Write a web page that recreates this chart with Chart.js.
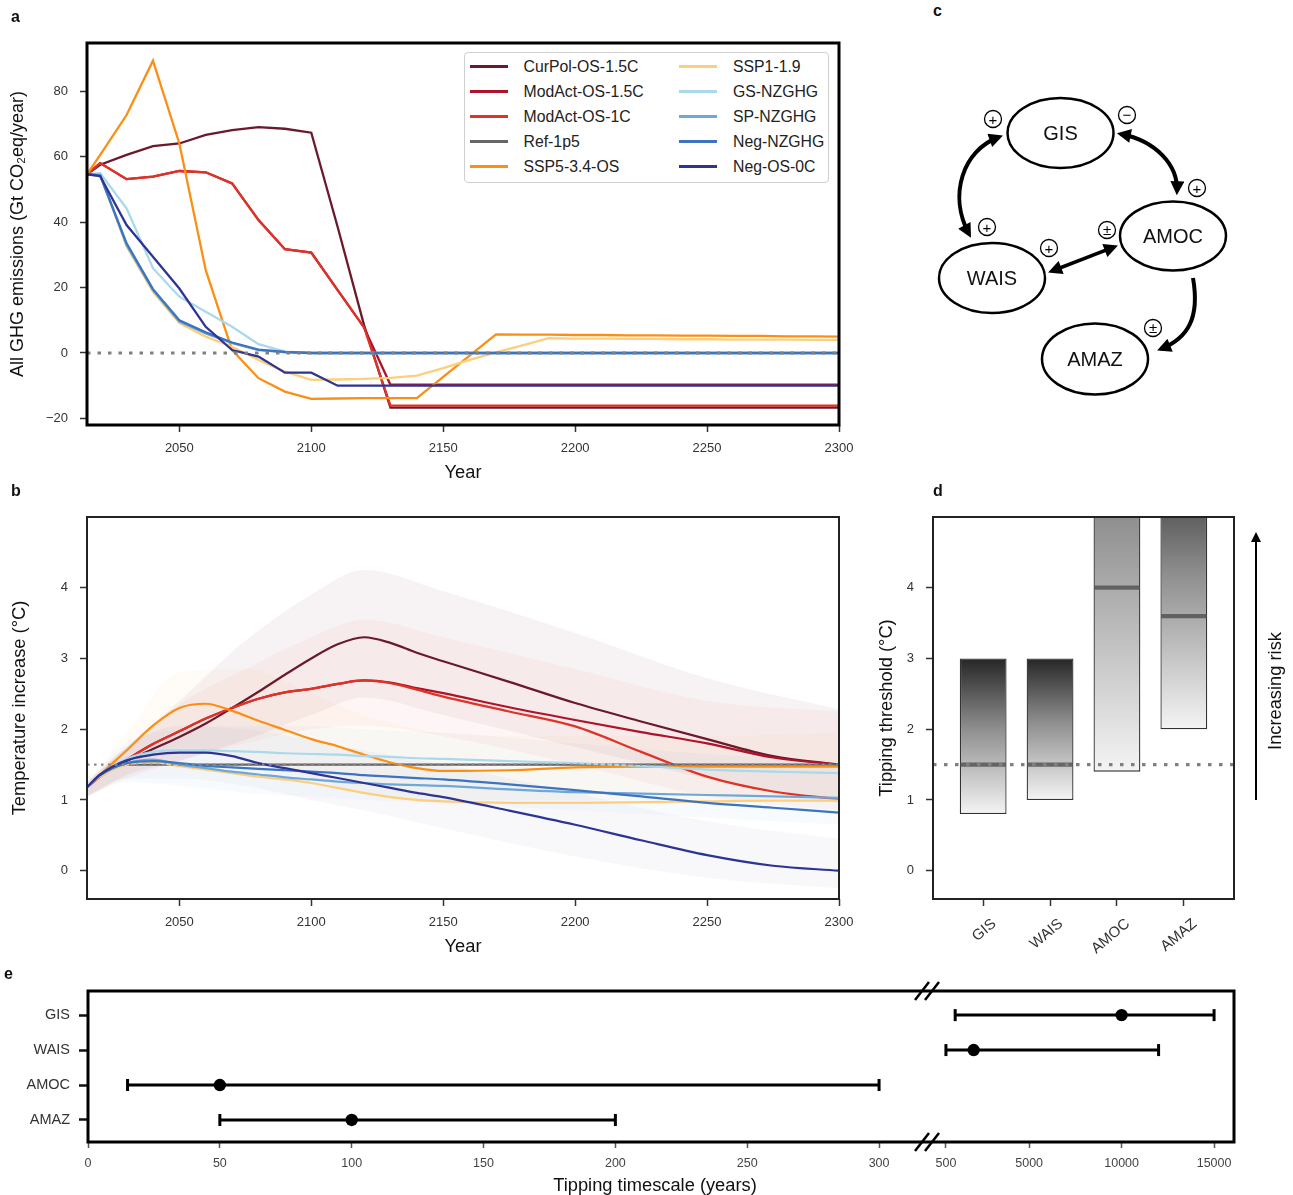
<!DOCTYPE html>
<html><head><meta charset="utf-8">
<script src="https://cdn.jsdelivr.net/npm/chart.js@4.4.0/dist/chart.umd.min.js"></script>
<style>
body{margin:0;background:#fff;width:1293px;height:1195px;position:relative;overflow:hidden;font-family:"Liberation Sans",Arial,Helvetica,sans-serif;color:#111;}
canvas{position:absolute;}
.pl{position:absolute;font-weight:bold;font-size:16px;}
#legA{position:absolute;left:464px;top:52px;width:363px;height:129px;border:1.5px solid #cfcfcf;border-radius:4px;background:#fff;font-size:15.8px;color:#222;}
</style></head><body>
<canvas id="ca" width="860" height="490" style="left:0;top:0"></canvas>
<canvas id="cb" width="860" height="480" style="left:0;top:490px"></canvas>
<canvas id="cd" width="433" height="480" style="left:860px;top:490px"></canvas>
<canvas id="ce1" width="926" height="220" style="left:0;top:975px"></canvas>
<canvas id="ce2" width="367" height="220" style="left:926px;top:975px"></canvas>
<div id="legA"></div>
<div class="pl" style="left:11px;top:8px">a</div>
<div class="pl" style="left:11px;top:482px">b</div>
<div class="pl" style="left:933px;top:2px">c</div>
<div class="pl" style="left:933px;top:482px">d</div>
<div class="pl" style="left:4px;top:965px">e</div>
<div style="position:absolute;left:455px;top:1174px;width:400px;text-align:center;font-size:18.3px;color:#111">Tipping timescale (years)</div>
<svg width="1293" height="1195" style="position:absolute;left:0;top:0;pointer-events:none" font-family="Liberation Sans, Arial, sans-serif">
<defs>
<marker id="ah" markerUnits="userSpaceOnUse" viewBox="0 0 10 10" refX="7" refY="5" markerWidth="15" markerHeight="14" orient="auto-start-reverse"><path d="M0,0 L10,5 L0,10 z" fill="#000"/></marker>
<marker id="ah2" markerUnits="userSpaceOnUse" viewBox="0 0 10 10" refX="8" refY="5" markerWidth="13" markerHeight="10" orient="auto"><path d="M0,0 L10,5 L0,10 z" fill="#000"/></marker>
</defs>
<g fill="none" stroke="#000" stroke-width="4">
<path d="M 999 137 C 963 150, 948 195, 969 234" marker-start="url(#ah)" marker-end="url(#ah)"/>
<path d="M 1121 134 C 1156 141, 1178 165, 1177 191" marker-start="url(#ah)" marker-end="url(#ah)"/>
<path d="M 1052 271 L 1114 247" stroke-width="3.5" marker-start="url(#ah)" marker-end="url(#ah)"/>
<path d="M 1193 278 C 1200 318, 1188 338, 1161 349" marker-end="url(#ah)"/>
</g>
<g fill="#fff" stroke="#000" stroke-width="2.5">
<ellipse cx="1060.5" cy="133" rx="53" ry="35"/>
<ellipse cx="1173" cy="236" rx="53" ry="34.5"/>
<ellipse cx="992" cy="278" rx="53" ry="35"/>
<ellipse cx="1095" cy="359" rx="53" ry="35.5"/>
</g>
<g font-size="20" fill="#111" text-anchor="middle">
<text x="1060.5" y="140">GIS</text>
<text x="1173" y="243">AMOC</text>
<text x="992" y="285">WAIS</text>
<text x="1095" y="366">AMAZ</text>
</g>
<g fill="#fff" stroke="#000" stroke-width="1.3">
<circle cx="993" cy="119" r="8.5"/><circle cx="1127" cy="115" r="8.5"/><circle cx="1197" cy="188" r="8.5"/>
<circle cx="987" cy="227" r="8.5"/><circle cx="1049" cy="248" r="8.5"/><circle cx="1107" cy="230" r="8.5"/><circle cx="1153" cy="328" r="8.5"/>
</g>
<g font-size="15" fill="#000" text-anchor="middle">
<text x="993" y="124.5">+</text><text x="1127" y="120">−</text><text x="1197" y="193.5">+</text>
<text x="987" y="232.5">+</text><text x="1049" y="253.5">+</text><text x="1107" y="235">±</text><text x="1153" y="333">±</text>
</g>
<path d="M 1256 800 L 1256 534" stroke="#000" stroke-width="2" fill="none" marker-end="url(#ah2)"/>
<text x="1281" y="691" font-size="18.3" fill="#111" text-anchor="middle" transform="rotate(-90 1281 691)">Increasing risk</text>
<g stroke="#000" stroke-width="2.5">
<line x1="915" y1="1000" x2="929" y2="982"/><line x1="925" y1="1000" x2="939" y2="982"/>
<line x1="915" y1="1151" x2="929" y2="1133"/><line x1="925" y1="1151" x2="939" y2="1133"/>
</g>
</svg>
<script>
const FONT = "'Liberation Sans', Arial, Helvetica, sans-serif";
Chart.defaults.font.family = FONT;
Chart.defaults.color = '#333';
Chart.defaults.animation = false;

// ---------------- DATA ----------------
const scenarioNames = ['CurPol-OS-1.5C','ModAct-OS-1.5C','ModAct-OS-1C','Ref-1p5','SSP5-3.4-OS','SSP1-1.9','GS-NZGHG','SP-NZGHG','Neg-NZGHG','Neg-OS-0C'];
const scenarioColors = ['#6a1a2c','#b0122b','#de3326','#666666','#fb8f15','#fdcf7c','#a9d9eb','#6ea8d8','#3d74bf','#2d3494'];

// Panel a: emissions (Gt CO2eq/yr)
const emisYears = [2015,2020,2030,2040,2050,2060,2070,2080,2090,2100,2110,2120,2130,2140,2150,2160,2170,2180,2190,2200,2210,2220,2230,2240,2250,2260,2270,2280,2290,2300];
const emisCurPol   = [54.6,57.5,60.5,63.2,64.0,66.6,68.1,69.0,68.5,67.3,38.5,8.5,-16.7,-16.7,-16.7,-16.7,-16.7,-16.7,-16.7,-16.7,-16.7,-16.7,-16.7,-16.7,-16.7,-16.7,-16.7,-16.7,-16.7,-16.7];
const emisModAct15 = [54.6,58.0,53.1,53.9,55.6,55.2,51.8,40.6,31.7,30.7,19.2,7.8,-9.7,-9.7,-9.7,-9.7,-9.7,-9.7,-9.7,-9.7,-9.7,-9.7,-9.7,-9.7,-9.7,-9.7,-9.7,-9.7,-9.7,-9.7];
const emisModAct1  = [54.6,58.0,53.1,53.9,55.6,55.2,51.8,40.6,31.7,30.7,19.2,7.8,-16.1,-16.1,-16.1,-16.1,-16.1,-16.1,-16.1,-16.1,-16.1,-16.1,-16.1,-16.1,-16.1,-16.1,-16.1,-16.1,-16.1,-16.1];
const emisSSP534   = [54.6,60.5,72.7,89.3,64.0,25.3,0.9,-7.7,-11.8,-14.0,-13.9,-13.8,-13.8,-13.8,-7.3,-0.8,5.7,5.6,5.6,5.5,5.5,5.4,5.4,5.3,5.3,5.2,5.2,5.1,5.1,5.0];
const emisSSP119   = [54.6,54.6,32.5,18.7,9.1,5.0,1.9,-2.1,-5.7,-8.2,-8.1,-7.9,-7.6,-6.9,-4.6,-2.1,0.2,2.3,4.5,4.4,4.4,4.3,4.3,4.2,4.2,4.1,4.1,4.1,4.0,4.0];
const emisGS       = [54.6,54.9,44.2,25.9,17.2,12.6,8.0,2.7,0.4,0,0,0,0,0,0,0,0,0,0,0,0,0,0,0,0,0,0,0,0,0];
const emisSP       = [54.6,54.4,33.0,19.2,9.6,6.0,3.0,0.9,0.3,0,0,0,0,0,0,0,0,0,0,0,0,0,0,0,0,0,0,0,0,0];
const emisNegNZ    = [54.6,54.2,33.5,19.5,10.0,6.3,3.2,1.0,0.3,0,0,0,0,0,0,0,0,0,0,0,0,0,0,0,0,0,0,0,0,0];
const emisNegOS    = [54.6,54.0,39.1,29.4,19.7,8.0,0.9,-1.1,-6.0,-6.0,-10.0,-10.0,-10.0,-10.0,-10.0,-10.0,-10.0,-10.0,-10.0,-10.0,-10.0,-10.0,-10.0,-10.0,-10.0,-10.0,-10.0,-10.0,-10.0,-10.0];
const emisZeroLine = 0;
const yearTicks = [2050,2100,2150,2200,2250,2300];
const emisTicks = [-20,0,20,40,60,80];

// Panel b: temperature (°C)
const tempYears = [2015,2020,2030,2040,2050,2060,2070,2080,2090,2100,2110,2120,2130,2140,2150,2175,2200,2225,2250,2275,2300];
const tempCurPol   = [1.18,1.33,1.55,1.72,1.89,2.08,2.30,2.53,2.77,3.00,3.20,3.30,3.22,3.08,2.96,2.67,2.37,2.11,1.86,1.62,1.50];
const tempModAct15 = [1.18,1.34,1.57,1.79,1.97,2.15,2.30,2.43,2.52,2.57,2.64,2.69,2.66,2.58,2.51,2.31,2.13,1.96,1.80,1.60,1.50];
const tempModAct1  = [1.18,1.34,1.57,1.79,1.97,2.15,2.30,2.43,2.52,2.57,2.64,2.69,2.65,2.56,2.46,2.25,2.04,1.68,1.33,1.12,1.01];
const tempRef      = [1.18,1.35,1.50,1.50,1.50,1.50,1.50,1.50,1.50,1.50,1.50,1.50,1.50,1.50,1.50,1.50,1.50,1.50,1.50,1.50,1.50];
const tempSSP534   = [1.18,1.36,1.70,2.05,2.30,2.36,2.26,2.12,1.99,1.86,1.76,1.64,1.53,1.45,1.41,1.42,1.46,1.47,1.47,1.47,1.47];
const tempSSP119   = [1.18,1.33,1.50,1.53,1.48,1.43,1.38,1.33,1.29,1.24,1.17,1.10,1.04,1.00,0.98,0.96,0.96,0.97,0.98,0.99,0.99];
const tempGS       = [1.18,1.36,1.58,1.68,1.70,1.70,1.69,1.68,1.66,1.65,1.64,1.62,1.61,1.59,1.58,1.55,1.52,1.48,1.43,1.40,1.38];
const tempSP       = [1.18,1.35,1.52,1.57,1.50,1.45,1.40,1.36,1.32,1.29,1.26,1.24,1.22,1.21,1.20,1.15,1.11,1.09,1.07,1.05,1.03];
const tempNegNZ    = [1.18,1.35,1.52,1.55,1.52,1.48,1.46,1.44,1.42,1.40,1.38,1.35,1.33,1.31,1.29,1.22,1.14,1.05,0.96,0.89,0.82];
const tempNegOS    = [1.18,1.36,1.56,1.64,1.67,1.67,1.62,1.52,1.45,1.38,1.31,1.24,1.17,1.10,1.04,0.85,0.65,0.43,0.22,0.07,0.00];
const tempTarget = 1.5;
const tempTicks = [0,1,2,3,4];
// uncertainty bands
const bandYears = [2015,2030,2050,2075,2100,2120,2150,2200,2250,2300];
const bandCurPolHi = [1.25,1.75,2.40,3.25,3.90,4.25,3.95,3.36,2.72,2.28];
const bandCurPolLo = [1.05,1.35,1.55,1.85,2.20,2.45,2.20,1.75,1.30,0.95];
const bandModActHi = [1.25,1.75,2.35,2.85,3.30,3.55,3.30,2.85,2.40,2.25];
const bandModActLo = [1.05,1.30,1.55,1.80,2.00,2.05,1.90,1.50,1.05,0.85];
const bandSSP5Hi   = [1.25,1.95,2.80,2.85,2.50,2.20,1.95,1.90,1.90,1.95];
const bandSSP5Lo   = [1.05,1.35,1.75,1.60,1.30,1.10,1.00,1.00,1.00,1.05];
const bandNZHi     = [1.25,1.80,2.00,2.05,2.05,2.00,1.95,1.80,1.65,1.55];
const bandNZLo     = [1.05,1.25,1.20,1.10,1.05,1.00,0.95,0.85,0.75,0.65];
const bandNegOSHi  = [1.25,1.75,2.05,2.00,1.85,1.70,1.50,1.10,0.70,0.45];
const bandNegOSLo  = [1.05,1.30,1.30,1.20,1.00,0.85,0.60,0.20,-0.10,-0.25];

// Panel d: tipping thresholds (°C)
const dCats = ['GIS','WAIS','AMOC','AMAZ'];
const dLow  = [0.8,1.0,1.4,2.0];
const dHigh = [3.0,3.0,8.0,6.0];
const dBest = [1.5,1.5,4.0,3.6];

// Panel e: tipping timescales (years)
const eCats = ['GIS','WAIS','AMOC','AMAZ'];
const eBest = [10000,2000,50,100];
const eLow  = [1000,500,15,50];
const eHigh = [15000,12000,300,200];
const eTicksLeft  = [0,50,100,150,200,250,300];
const eTicksRight = [500,5000,10000,15000];

// ---------------- HELPERS ----------------
const pts = (xs, ys) => xs.map((x, i) => ({x, y: ys[i]}));
const rgba = (hex, a) => { const n = parseInt(hex.slice(1), 16); return `rgba(${n>>16},${(n>>8)&255},${n&255},${a})`; };
const minusFmt = v => v < 0 ? '\u2212' + Math.abs(v) : String(v);

function axis(o) {
  return {
    type: 'linear', min: o.min, max: o.max, reverse: !!o.reverse, display: o.display !== false, offset: false,
    grid: {display: true, drawOnChartArea: false, drawTicks: true, tickLength: o.tl || 7, tickWidth: o.tw || 1.5, tickColor: o.tc || '#333', offset: false},
    border: {display: false},
    ticks: {autoSkip: false, color: o.lc || '#333', font: {size: o.fs || 13, family: FONT}, padding: o.pad == null ? 10 : o.pad,
      maxRotation: o.rot || 0, minRotation: o.rot || 0, labelOffset: o.lo || 0,
      callback: v => o.labels ? o.labels[v] : minusFmt(v)},
    afterBuildTicks: s => { s.ticks = o.ticks.map(v => ({value: v})); },
    afterFit: s => { if (o.w != null) s.width = o.w; if (o.h != null) s.height = o.h; s.paddingLeft = s.paddingRight = s.paddingTop = s.paddingBottom = 0; },
    title: o.title ? {display: true, text: o.title, color: '#111', font: {size: o.tfs || 18.3, family: FONT}, padding: {top: o.tpad, bottom: o.tpad}} : {display: false}
  };
}
const framePlugin = {
  id: 'frame',
  afterDraw(chart, args, o) {
    const a = chart.chartArea, c = chart.ctx, s = o.sides || 'tlbr';
    c.save(); c.strokeStyle = o.color || '#000'; c.lineWidth = o.width || 2; c.lineCap = 'square';
    c.beginPath();
    if (s.includes('t')) { c.moveTo(a.left, a.top); c.lineTo(a.right, a.top); }
    if (s.includes('b')) { c.moveTo(a.left, a.bottom); c.lineTo(a.right, a.bottom); }
    if (s.includes('l')) { c.moveTo(a.left, a.top); c.lineTo(a.left, a.bottom); }
    if (s.includes('r')) { c.moveTo(a.right, a.top); c.lineTo(a.right, a.bottom); }
    c.stroke(); c.restore();
  }
};
const basePlugins = frame => ({legend: {display: false}, tooltip: {enabled: false}, frame});

// ---------------- LEGEND (panel a) ----------------
const leg = document.getElementById('legA');
scenarioNames.forEach((n, i) => {
  const col = i < 5 ? 0 : 1, row = i % 5;
  const it = document.createElement('div');
  it.style.cssText = `position:absolute;left:${col ? 214 : 4.5}px;top:${3.5 + row * 25}px;height:20px;display:flex;align-items:center;white-space:nowrap;`;
  it.innerHTML = `<span style="display:inline-block;width:38px;height:2.5px;background:${scenarioColors[i]};margin-right:16px"></span><span>${n}</span>`;
  leg.appendChild(it);
});

// ---------------- PANEL A ----------------
const X0 = 2015, X1 = 2300;
const emisSeries = [emisCurPol, emisModAct15, emisModAct1, null, emisSSP534, emisSSP119, emisGS, emisSP, emisNegNZ, emisNegOS];
const dsA = [];
emisSeries.forEach((s, i) => {
  if (!s) return;
  dsA.push({data: pts(emisYears, s), borderColor: scenarioColors[i], borderWidth: 2.3, pointRadius: 0, tension: 0, order: 20 - i});
});
dsA.push({data: [{x: X0, y: emisZeroLine}, {x: X1, y: emisZeroLine}], borderColor: '#808080', borderWidth: 3.2, borderDash: [3.5, 7], pointRadius: 0, order: 0});
new Chart(document.getElementById('ca'), {
  type: 'line', data: {datasets: dsA},
  options: {responsive: false, devicePixelRatio: 1, events: [],
    layout: {autoPadding: false, padding: {left: 0, right: 21, top: 43, bottom: 0}},
    scales: {
      x: axis({min: X0, max: X1, ticks: yearTicks, h: 65, title: 'Year', tpad: 6, pad: 9}),
      y: axis({min: -22, max: 94.7, ticks: emisTicks, w: 87, title: 'All GHG emissions (Gt CO\u2082eq/year)', tfs: 18, tpad: 7, pad: 12})
    },
    plugins: basePlugins({sides: 'tlbr', width: 3, color: '#000'})
  },
  plugins: [framePlugin]
});

// ---------------- PANEL B ----------------
const tempSeries = [tempCurPol, tempModAct15, tempModAct1, tempRef, tempSSP534, tempSSP119, tempGS, tempSP, tempNegNZ, tempNegOS];
const bands = [
  [bandCurPolHi, bandCurPolLo, scenarioColors[0], 0.05],
  [bandModActHi, bandModActLo, scenarioColors[2], 0.045],
  [bandSSP5Hi, bandSSP5Lo, scenarioColors[4], 0.04],
  [bandNZHi, bandNZLo, scenarioColors[7], 0.05],
  [bandNegOSHi, bandNegOSLo, scenarioColors[9], 0.035]
];
const dsB = [];
bands.forEach(b => {
  dsB.push({data: pts(bandYears, b[0]), borderWidth: 0, pointRadius: 0, fill: '+1', backgroundColor: rgba(b[2], b[3]), cubicInterpolationMode: 'monotone', order: 100});
  dsB.push({data: pts(bandYears, b[1]), borderWidth: 0, pointRadius: 0, fill: false, cubicInterpolationMode: 'monotone', order: 100});
});
tempSeries.forEach((s, i) => {
  dsB.push({data: pts(tempYears, s), borderColor: scenarioColors[i], borderWidth: 2.2, pointRadius: 0, cubicInterpolationMode: 'monotone', order: 20 - i});
});
dsB.push({data: [{x: X0, y: tempTarget}, {x: X1, y: tempTarget}], borderColor: '#8a8a8a', borderWidth: 2.4, borderDash: [2.5, 4.5], pointRadius: 0, order: 0});
new Chart(document.getElementById('cb'), {
  type: 'line', data: {datasets: dsB},
  options: {responsive: false, devicePixelRatio: 1, events: [],
    layout: {autoPadding: false, padding: {left: 0, right: 21, top: 27, bottom: 0}},
    scales: {
      x: axis({min: X0, max: X1, ticks: yearTicks, h: 71, title: 'Year', tpad: 12, pad: 9}),
      y: axis({min: -0.4, max: 5.0, ticks: tempTicks, w: 87, title: 'Temperature increase (\u00B0C)', tpad: 9, pad: 12})
    },
    plugins: basePlugins({sides: 'tlbr', width: 2, color: '#222'})
  },
  plugins: [framePlugin]
});

// ---------------- PANEL D ----------------
const DX0 = -0.75, DX1 = 3.75;
const gradFill = c => {
  const ch = c.chart, ys = ch.scales && ch.scales.y;
  if (!ch.chartArea || !c.raw || !ys) return '#999';
  const top = ys.getPixelForValue(c.raw.y[1]), bot = ys.getPixelForValue(c.raw.y[0]);
  const g = ch.ctx.createLinearGradient(0, top, 0, bot);
  g.addColorStop(0, '#262626'); g.addColorStop(0.45, '#8e8e8e'); g.addColorStop(1, '#f4f4f4');
  return g;
};
new Chart(document.getElementById('cd'), {
  type: 'bar',
  data: {datasets: [
    {type: 'bar', data: dCats.map((c, i) => ({x: i, y: [dLow[i], dHigh[i]]})), backgroundColor: gradFill, borderColor: '#333', borderWidth: 1.3, borderSkipped: false, barPercentage: 0.7, categoryPercentage: 1, grouped: false, order: 3},
    {type: 'bar', data: dCats.map((c, i) => ({x: i, y: [dBest[i] - 0.03, dBest[i] + 0.03]})), backgroundColor: 'rgba(85,85,85,0.85)', borderWidth: 0, barPercentage: 0.68, categoryPercentage: 1, grouped: false, order: 2},
    {type: 'line', data: [{x: DX0, y: tempTarget}, {x: DX1, y: tempTarget}], borderColor: '#808080', borderWidth: 3.4, borderDash: [3.5, 7.5], pointRadius: 0, order: 0}
  ]},
  options: {responsive: false, devicePixelRatio: 1, events: [],
    layout: {autoPadding: false, padding: {left: 0, right: 59, top: 27, bottom: 0}},
    scales: {
      x: axis({min: DX0, max: DX1, ticks: [0, 1, 2, 3], labels: dCats, h: 71, rot: 40, lo: 11, pad: 9, fs: 15}),
      y: axis({min: -0.4, max: 5.0, ticks: tempTicks, w: 73, title: 'Tipping threshold (\u00B0C)', tpad: 16, pad: 12})
    },
    plugins: basePlugins({sides: 'tlbr', width: 2, color: '#222'})
  },
  plugins: [framePlugin]
});

// ---------------- PANEL E ----------------
const EL0 = 0, EL1 = 317.8, ER0 = -578, ER1 = 16078;
function eDatasets(keep) {
  const ds = [];
  eCats.forEach((c, i) => {
    if (!keep(i)) return;
    ds.push({data: [{x: eLow[i], y: i}, {x: eHigh[i], y: i}], borderColor: '#000', borderWidth: 3, pointStyle: 'line', pointRotation: 90, pointRadius: 6, pointBorderWidth: 3, pointBorderColor: '#000', order: 2});
    ds.push({data: [{x: eBest[i], y: i}], showLine: false, pointStyle: 'circle', pointRadius: 6.2, pointBackgroundColor: '#000', pointBorderColor: '#000', pointBorderWidth: 0, order: 1});
  });
  return ds;
}
const eY = o => axis(Object.assign({min: -0.69, max: 3.63, reverse: true, ticks: [0, 1, 2, 3], labels: eCats, fs: 14.5, tl: 9, tw: 2.5, tc: '#111', pad: 9}, o));
new Chart(document.getElementById('ce1'), {
  type: 'line', data: {datasets: eDatasets(i => eHigh[i] <= EL1)},
  options: {responsive: false, devicePixelRatio: 1, events: [],
    layout: {autoPadding: false, padding: {left: 0, right: 0, top: 16, bottom: 0}},
    scales: {
      x: axis({min: EL0, max: EL1, ticks: eTicksLeft, h: 53, fs: 12.5, lc: '#444', tc: '#555', tl: 6, pad: 8}),
      y: eY({w: 88})
    },
    plugins: basePlugins({sides: 'tlb', width: 3, color: '#000'})
  },
  plugins: [framePlugin]
});
new Chart(document.getElementById('ce2'), {
  type: 'line', data: {datasets: eDatasets(i => eLow[i] > EL1)},
  options: {responsive: false, devicePixelRatio: 1, events: [],
    layout: {autoPadding: false, padding: {left: 0, right: 59, top: 16, bottom: 0}},
    scales: {
      x: axis({min: ER0, max: ER1, ticks: eTicksRight, h: 53, fs: 12.5, lc: '#444', tc: '#555', tl: 6, pad: 8}),
      y: eY({display: false})
    },
    plugins: basePlugins({sides: 'trb', width: 3, color: '#000'})
  },
  plugins: [framePlugin]
});
</script>
</body></html>
